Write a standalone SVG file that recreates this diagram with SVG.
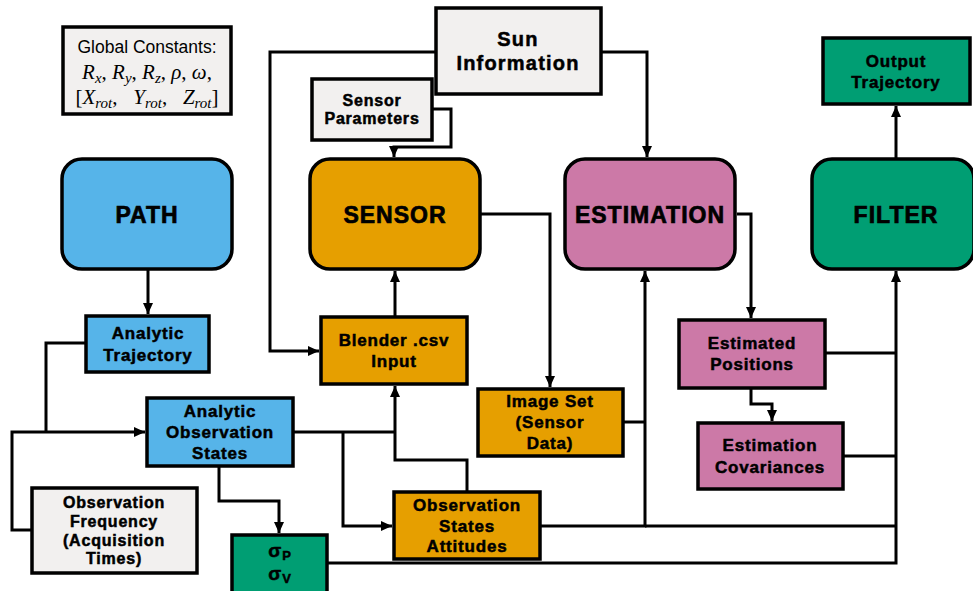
<svg xmlns="http://www.w3.org/2000/svg" width="973" height="591" viewBox="0 0 973 591">
<defs>
<marker id="ah" markerUnits="userSpaceOnUse" markerWidth="12" markerHeight="12" viewBox="0 0 12 12" refX="11" refY="6" orient="auto">
<path d="M0,1 L11,6 L0,11 Z" fill="#000"/>
</marker>
<style>
.box{stroke:#000;stroke-width:3.5}
.big{stroke:#000;stroke-width:3.5}
.blue{fill:#56B4E9}.orange{fill:#E69F00}.pink{fill:#CC79A7}.green{fill:#009E73}.gray{fill:#F2F0EF}
.t{font-family:"Liberation Sans",Arial,sans-serif;font-weight:bold;font-size:17px;letter-spacing:0.8px;text-anchor:middle;fill:#000;stroke:#000;stroke-width:0.5}
.s{font-size:16px}
.h{font-family:"Liberation Sans",Arial,sans-serif;font-weight:bold;font-size:23px;letter-spacing:1px;text-anchor:middle;fill:#000;stroke:#000;stroke-width:0.7}
.c{fill:none;stroke:#000;stroke-width:3}
.m{font-family:"Liberation Serif","Times New Roman",serif;font-style:italic;font-size:21px;text-anchor:middle;fill:#000}
</style>
</defs>
<rect width="973" height="591" fill="#fff"/>

<g id="connectors">
<path class="c" d="M436,52 H270 V351 H319" marker-end="url(#ah)"/>
<path class="c" d="M601,52 H647 V157" marker-end="url(#ah)"/>
<path class="c" d="M432,109 H451 V147 H394 V157" marker-end="url(#ah)"/>
<path class="c" d="M148,269 V314" marker-end="url(#ah)"/>
<path class="c" d="M86,343 H46 V432"/>
<path class="c" d="M32,530 H12 V432 H145" marker-end="url(#ah)"/>
<path class="c" d="M219,466 V501 H279 V533" marker-end="url(#ah)"/>
<path class="c" d="M293,432 H395"/>
<path class="c" d="M343,432 V526 H392" marker-end="url(#ah)"/>
<path class="c" d="M467,492 V460 H395 V386" marker-end="url(#ah)"/>
<path class="c" d="M395,317 V271" marker-end="url(#ah)"/>
<path class="c" d="M480,214 H550 V387" marker-end="url(#ah)"/>
<path class="c" d="M623,422 H645"/>
<path class="c" d="M540,526 H645 V271" marker-end="url(#ah)"/>
<path class="c" d="M645,526 H896"/>
<path class="c" d="M327,563 H896 V271" marker-end="url(#ah)"/>
<path class="c" d="M825,353 H896"/>
<path class="c" d="M843,456 H896"/>
<path class="c" d="M737,214 H751 V318" marker-end="url(#ah)"/>
<path class="c" d="M751,388 V404 H772 V421" marker-end="url(#ah)"/>
<path class="c" d="M896,159 V106" marker-end="url(#ah)"/>
</g>

<g id="global-constants">
<rect class="box gray" x="63" y="27" width="168" height="87"/>
<text x="147" y="53" font-family="'Liberation Sans',Arial,sans-serif" font-size="17.5" text-anchor="middle" fill="#000">Global Constants:</text>
<text class="m" x="147" y="79">R<tspan font-size="15" dy="4">x</tspan><tspan dy="-4" font-style="normal">, </tspan>R<tspan font-size="15" dy="4">y</tspan><tspan dy="-4" font-style="normal">, </tspan>R<tspan font-size="15" dy="4">z</tspan><tspan dy="-4" font-style="normal">, </tspan>ρ<tspan font-style="normal">, </tspan>ω<tspan font-style="normal">,</tspan></text>
<text class="m" x="147" y="104" xml:space="preserve"><tspan font-style="normal">[</tspan>X<tspan font-size="15" dy="4">rot</tspan><tspan dy="-4" font-style="normal">,   </tspan>Y<tspan font-size="15" dy="4">rot</tspan><tspan dy="-4" font-style="normal">,   </tspan>Z<tspan font-size="15" dy="4">rot</tspan><tspan dy="-4" font-style="normal">]</tspan></text>
</g>

<g id="sun-information">
<rect class="box gray" x="436" y="8" width="165" height="86"/>
<text class="t" x="518" y="46" style="font-size:20px;letter-spacing:1.2px">Sun</text>
<text class="t" x="518" y="70" style="font-size:20px;letter-spacing:1.2px">Information</text>
</g>

<g id="sensor-parameters">
<rect class="box gray" x="312" y="79" width="120" height="61"/>
<text class="t s" x="372" y="106">Sensor</text>
<text class="t s" x="372" y="124">Parameters</text>
</g>

<g id="output-trajectory">
<rect class="box green" x="823" y="38" width="147" height="66"/>
<text class="t" x="896" y="67">Output</text>
<text class="t" x="896" y="88">Trajectory</text>
</g>

<g id="path">
<rect class="big blue" x="62" y="159" width="170" height="110" rx="20"/>
<text class="h" x="147" y="223">PATH</text>
</g>

<g id="sensor">
<rect class="big orange" x="310" y="159" width="170" height="110" rx="20"/>
<text class="h" x="395" y="223">SENSOR</text>
</g>

<g id="estimation">
<rect class="big pink" x="565" y="159" width="170" height="110" rx="20"/>
<text class="h" x="650" y="223">ESTIMATION</text>
</g>

<g id="filter">
<rect class="big green" x="812" y="159" width="162" height="110" rx="20"/>
<text class="h" x="896" y="223">FILTER</text>
</g>

<g id="analytic-trajectory">
<rect class="box blue" x="86" y="316" width="123" height="56"/>
<text class="t" x="148" y="339">Analytic</text>
<text class="t" x="148" y="361">Trajectory</text>
</g>

<g id="blender-input">
<rect class="box orange" x="321" y="317" width="146" height="67"/>
<text class="t" x="394" y="346">Blender .csv</text>
<text class="t" x="394" y="367">Input</text>
</g>

<g id="estimated-positions">
<rect class="box pink" x="679" y="320" width="146" height="68"/>
<text class="t" x="752" y="349">Estimated</text>
<text class="t" x="752" y="370">Positions</text>
</g>

<g id="estimation-covariances">
<rect class="box pink" x="698" y="423" width="145" height="66"/>
<text class="t" x="770" y="451">Estimation</text>
<text class="t" x="770" y="473">Covariances</text>
</g>

<g id="analytic-observation-states">
<rect class="box blue" x="147" y="398" width="146" height="68"/>
<text class="t" x="220" y="417">Analytic</text>
<text class="t" x="220" y="438">Observation</text>
<text class="t" x="220" y="459">States</text>
</g>

<g id="image-set">
<rect class="box orange" x="478" y="389" width="145" height="67"/>
<text class="t" x="550" y="407">Image Set</text>
<text class="t" x="550" y="428">(Sensor</text>
<text class="t" x="550" y="449">Data)</text>
</g>

<g id="observation-frequency">
<rect class="box gray" x="32" y="488" width="165" height="85"/>
<text class="t s" x="114" y="508">Observation</text>
<text class="t s" x="114" y="527">Frequency</text>
<text class="t s" x="114" y="546">(Acquisition</text>
<text class="t s" x="114" y="564">Times)</text>
</g>

<g id="observation-states-attitudes">
<rect class="box orange" x="394" y="492" width="146" height="67"/>
<text class="t" x="467" y="511">Observation</text>
<text class="t" x="467" y="532">States</text>
<text class="t" x="467" y="552">Attitudes</text>
</g>

<g id="sigma">
<rect class="box green" x="232" y="535" width="95" height="70"/>
<text class="t" x="280" y="557" style="font-size:19px">σ<tspan font-size="13" dy="3">P</tspan></text>
<text class="t" x="280" y="580" style="font-size:19px">σ<tspan font-size="13" dy="3">V</tspan></text>
</g>
</svg>
